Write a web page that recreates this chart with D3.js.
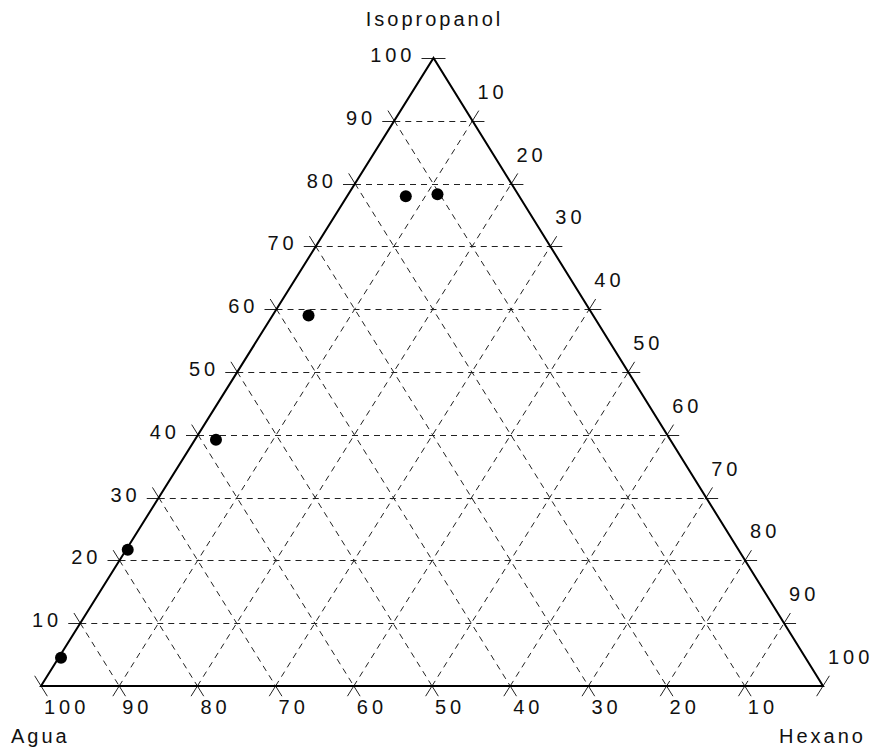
<!DOCTYPE html>
<html lang="es">
<head>
<meta charset="utf-8">
<script src="https://cdn.jsdelivr.net/npm/d3@7"></script>
<style>
  html, body { margin: 0; padding: 0; background: #fff; }
  svg { display: block; }
  text { font-family: "Liberation Sans", Arial, sans-serif; fill: #111; }
</style>
</head>
<body>
<svg id="chart" width="873" height="751"></svg>
<script>
// Composition values (%) of the measured points: water, isopropanol, hexane
const agua        = [95.2, 78.1, 58.1, 36.4, 14.5, 10.3];
const isopropanol = [ 4.5, 21.7, 39.2, 59.0, 78.0, 78.3];
const hexano      = [ 0.3,  0.2,  2.7,  4.6,  7.5, 11.4];

// Tick values on each side of the triangle
const aguaTicks = [100, 90, 80, 70, 60, 50, 40, 30, 20, 10];
const isoTicks  = [10, 20, 30, 40, 50, 60, 70, 80, 90, 100];
const hexTicks  = [10, 20, 30, 40, 50, 60, 70, 80, 90, 100];

// Component names at the corners
const titles = { top: "Isopropanol", left: "Agua", right: "Hexano" };

const svg = d3.select("#chart");

// Triangle corners
const L = { x: 41, y: 686 };   // 100 % Agua
const R = { x: 823, y: 686 };  // 100 % Hexano
const T = { x: 433.5, y: 58 }; // 100 % Isopropanol

// Linear scales: hexane moves along the base, isopropanol towards the apex
const xHex = d3.scaleLinear().domain([0, 100]).range([0, R.x - L.x]);
const xIso = d3.scaleLinear().domain([0, 100]).range([0, T.x - L.x]);
const yIso = d3.scaleLinear().domain([0, 100]).range([L.y, T.y]);

function project(a, i, h) {
  return { x: L.x + xHex(h) + xIso(i), y: yIso(i) };
}

function unit(p, q) {
  const dx = q.x - p.x, dy = q.y - p.y, n = Math.hypot(dx, dy);
  return { x: dx / n, y: dy / n };
}

const TICK = 12;
const dirIso = { x: 1, y: 0 };      // constant isopropanol: horizontal
const dirAgua = unit(T, R);         // constant water: parallel to right side
const dirHex = unit(L, T);          // constant hexane: parallel to left side

// Grid lines (p1 -> p2) with their direction
const grid = [];
isoTicks.forEach(v => grid.push({ kind: "iso", p1: project(100 - v, v, 0), p2: project(0, v, 100 - v), d: dirIso }));
aguaTicks.forEach(v => grid.push({ kind: "agua", p1: project(v, 100 - v, 0), p2: project(v, 0, 100 - v), d: dirAgua }));
hexTicks.forEach(v => grid.push({ kind: "hex", p1: project(100 - v, 0, v), p2: project(0, 100 - v, v), d: dirHex }));

function snap(g, p) {
  // keep horizontal lines on whole pixels
  return g.kind === "iso" ? { x: p.x, y: Math.round(p.y) + 0.5 } : p;
}

const gGrid = svg.append("g");
// dashed interior lines
gGrid.selectAll("line.grid")
  .data(grid.filter(g => Math.hypot(g.p2.x - g.p1.x, g.p2.y - g.p1.y) > 1))
  .join("line")
  .attr("class", "grid")
  .attr("x1", g => snap(g, g.p1).x).attr("y1", g => snap(g, g.p1).y)
  .attr("x2", g => snap(g, g.p2).x).attr("y2", g => snap(g, g.p2).y)
  .attr("stroke", "#222")
  .attr("stroke-width", 1)
  .attr("stroke-dasharray", "6,5");

// short solid ticks continuing each grid line beyond the sides
const tickSegs = [];
grid.forEach(g => {
  tickSegs.push({ g, a: { x: g.p1.x - g.d.x * TICK, y: g.p1.y - g.d.y * TICK }, b: g.p1 });
  tickSegs.push({ g, a: g.p2, b: { x: g.p2.x + g.d.x * TICK, y: g.p2.y + g.d.y * TICK } });
});
gGrid.selectAll("line.tick")
  .data(tickSegs)
  .join("line")
  .attr("class", "tick")
  .attr("x1", s => snap(s.g, s.a).x).attr("y1", s => snap(s.g, s.a).y)
  .attr("x2", s => snap(s.g, s.b).x).attr("y2", s => snap(s.g, s.b).y)
  .attr("stroke", "#222")
  .attr("stroke-width", 1);

// Triangle outline
svg.append("path")
  .attr("d", d3.line().x(p => p.x).y(p => p.y)([L, R, T, L]) + "Z")
  .attr("fill", "none")
  .attr("stroke", "#000")
  .attr("stroke-width", 2)
  .attr("stroke-linejoin", "miter");

// Tick labels
const numStyle = s => s.attr("font-size", 20).attr("letter-spacing", "4px");

svg.append("g").selectAll("text")
  .data(isoTicks)
  .join("text")
  .call(numStyle)
  .attr("text-anchor", "end")
  .attr("x", v => project(100 - v, v, 0).x - 18)
  .attr("y", v => project(100 - v, v, 0).y + 4)
  .text(v => v);

svg.append("g").selectAll("text")
  .data(aguaTicks)
  .join("text")
  .call(numStyle)
  .attr("text-anchor", "start")
  .attr("x", v => project(v, 0, 100 - v).x + 3)
  .attr("y", v => project(v, 0, 100 - v).y + 28)
  .text(v => v);

svg.append("g").selectAll("text")
  .data(hexTicks)
  .join("text")
  .call(numStyle)
  .attr("text-anchor", "start")
  .attr("x", v => project(0, 100 - v, v).x + 5)
  .attr("y", v => project(0, 100 - v, v).y - 22)
  .text(v => v);

// Corner titles
const titleStyle = s => s.attr("font-size", 20).attr("letter-spacing", "3px");
svg.append("text").call(titleStyle)
  .attr("text-anchor", "middle")
  .attr("x", T.x + 1).attr("y", 26)
  .text(titles.top);
svg.append("text").call(titleStyle)
  .attr("text-anchor", "start")
  .attr("x", L.x - 30).attr("y", 743)
  .text(titles.left);
svg.append("text").call(titleStyle)
  .attr("text-anchor", "start")
  .attr("x", R.x - 44).attr("y", 743)
  .text(titles.right);

// Data points
svg.append("g").selectAll("circle")
  .data(agua.map((a, k) => project(a, isopropanol[k], hexano[k])))
  .join("circle")
  .attr("cx", p => p.x)
  .attr("cy", p => p.y)
  .attr("r", 6)
  .attr("fill", "#000");
</script>
</body>
</html>
